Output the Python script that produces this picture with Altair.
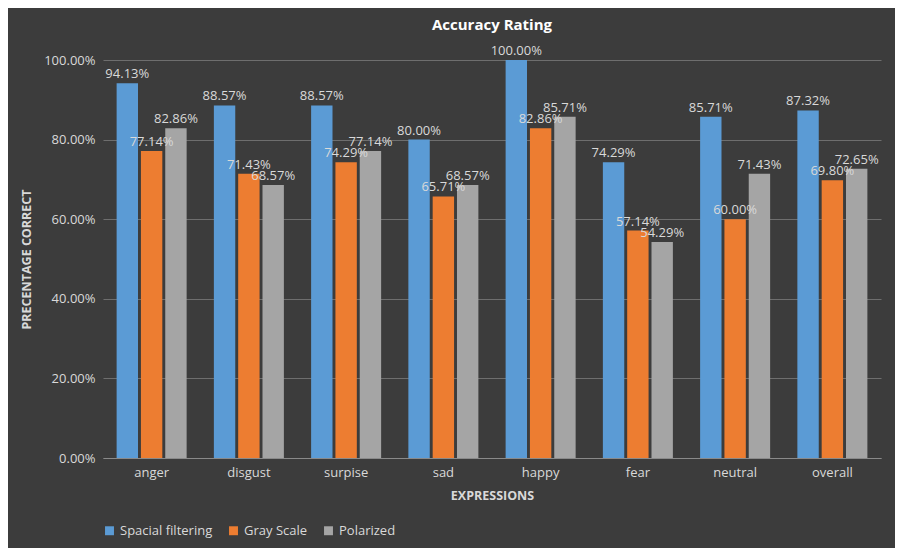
import altair as alt
import pandas as pd

expressions = ["anger", "disgust", "surpise", "sad", "happy", "fear", "neutral", "overall"]
methods = ["Spacial filtering", "Gray Scale", "Polarized"]
spacial = [94.13, 88.57, 88.57, 80.00, 100.00, 74.29, 85.71, 87.32]
gray = [77.14, 71.43, 74.29, 65.71, 82.86, 57.14, 60.00, 69.80]
polar = [82.86, 68.57, 77.14, 68.57, 85.71, 54.29, 71.43, 72.65]
ticks = [0.0, 0.1, 0.2, 0.3, 0.4, 0.5, 0.6, 0.7, 0.8, 0.9, 1.0]

rows = []
for i, e in enumerate(expressions):
    for m, vals in zip(methods, [spacial, gray, polar]):
        rows.append({"expr": e, "method": m, "value": vals[i] / 100})
df = pd.DataFrame(rows)

colors = ["#5b9bd5", "#ed7d31", "#a5a5a5"]

base = alt.Chart(df).encode(
    x=alt.X("expr:N", sort=expressions, title="EXPRESSIONS",
            scale=alt.Scale(paddingInner=0.28, paddingOuter=0.14),
            axis=alt.Axis(labelAngle=0, ticks=False, domainColor="#8a8a8a", labelPadding=8)),
    xOffset=alt.XOffset("method:N", sort=methods,
                        scale=alt.Scale(paddingInner=0.12)),
)

bars = base.mark_bar().encode(
    y=alt.Y("value:Q", title="PRECENTAGE CORRECT",
            scale=alt.Scale(domain=[0, 1]),
            axis=alt.Axis(format=".2%", values=ticks, labelOverlap=False, labelPadding=8,
                          domain=False, ticks=False, gridColor="#6e6e6e")),
    color=alt.Color("method:N", sort=methods,
                    scale=alt.Scale(domain=methods, range=colors),
                    legend=alt.Legend(orient="bottom", direction="horizontal", title=None,
                                      symbolType="square", symbolSize=80, labelFontSize=13,
                                      columnPadding=14, offset=22)),
)

labels = base.mark_text(dy=-9, fontSize=13, color="#d9d9d9", font="Open Sans").encode(
    y="value:Q",
    text=alt.Text("value:Q", format=".2%"),
)

chart = (bars + labels).properties(
    width=887, height=540,
    autosize=alt.AutoSizeParams(type="fit", contains="padding"),
    padding={"left": 12, "right": 14, "top": 10, "bottom": 10},
    background="#3c3c3c",
    title=alt.Title("Accuracy Rating", fontSize=15, color="white", fontWeight="bold", offset=12),
).configure_view(stroke=None).configure_axis(
    labelColor="#d9d9d9", titleColor="#d9d9d9", labelFontSize=13,
    titleFontSize=12.5, titleFontWeight="bold", labelFont="Open Sans", titleFont="Open Sans",
    titlePadding=10,
).configure_legend(labelColor="#d9d9d9", labelFont="Open Sans").configure_title(font="Open Sans")

chart.save("out.html", embed_options={"renderer": "svg", "actions": False})
